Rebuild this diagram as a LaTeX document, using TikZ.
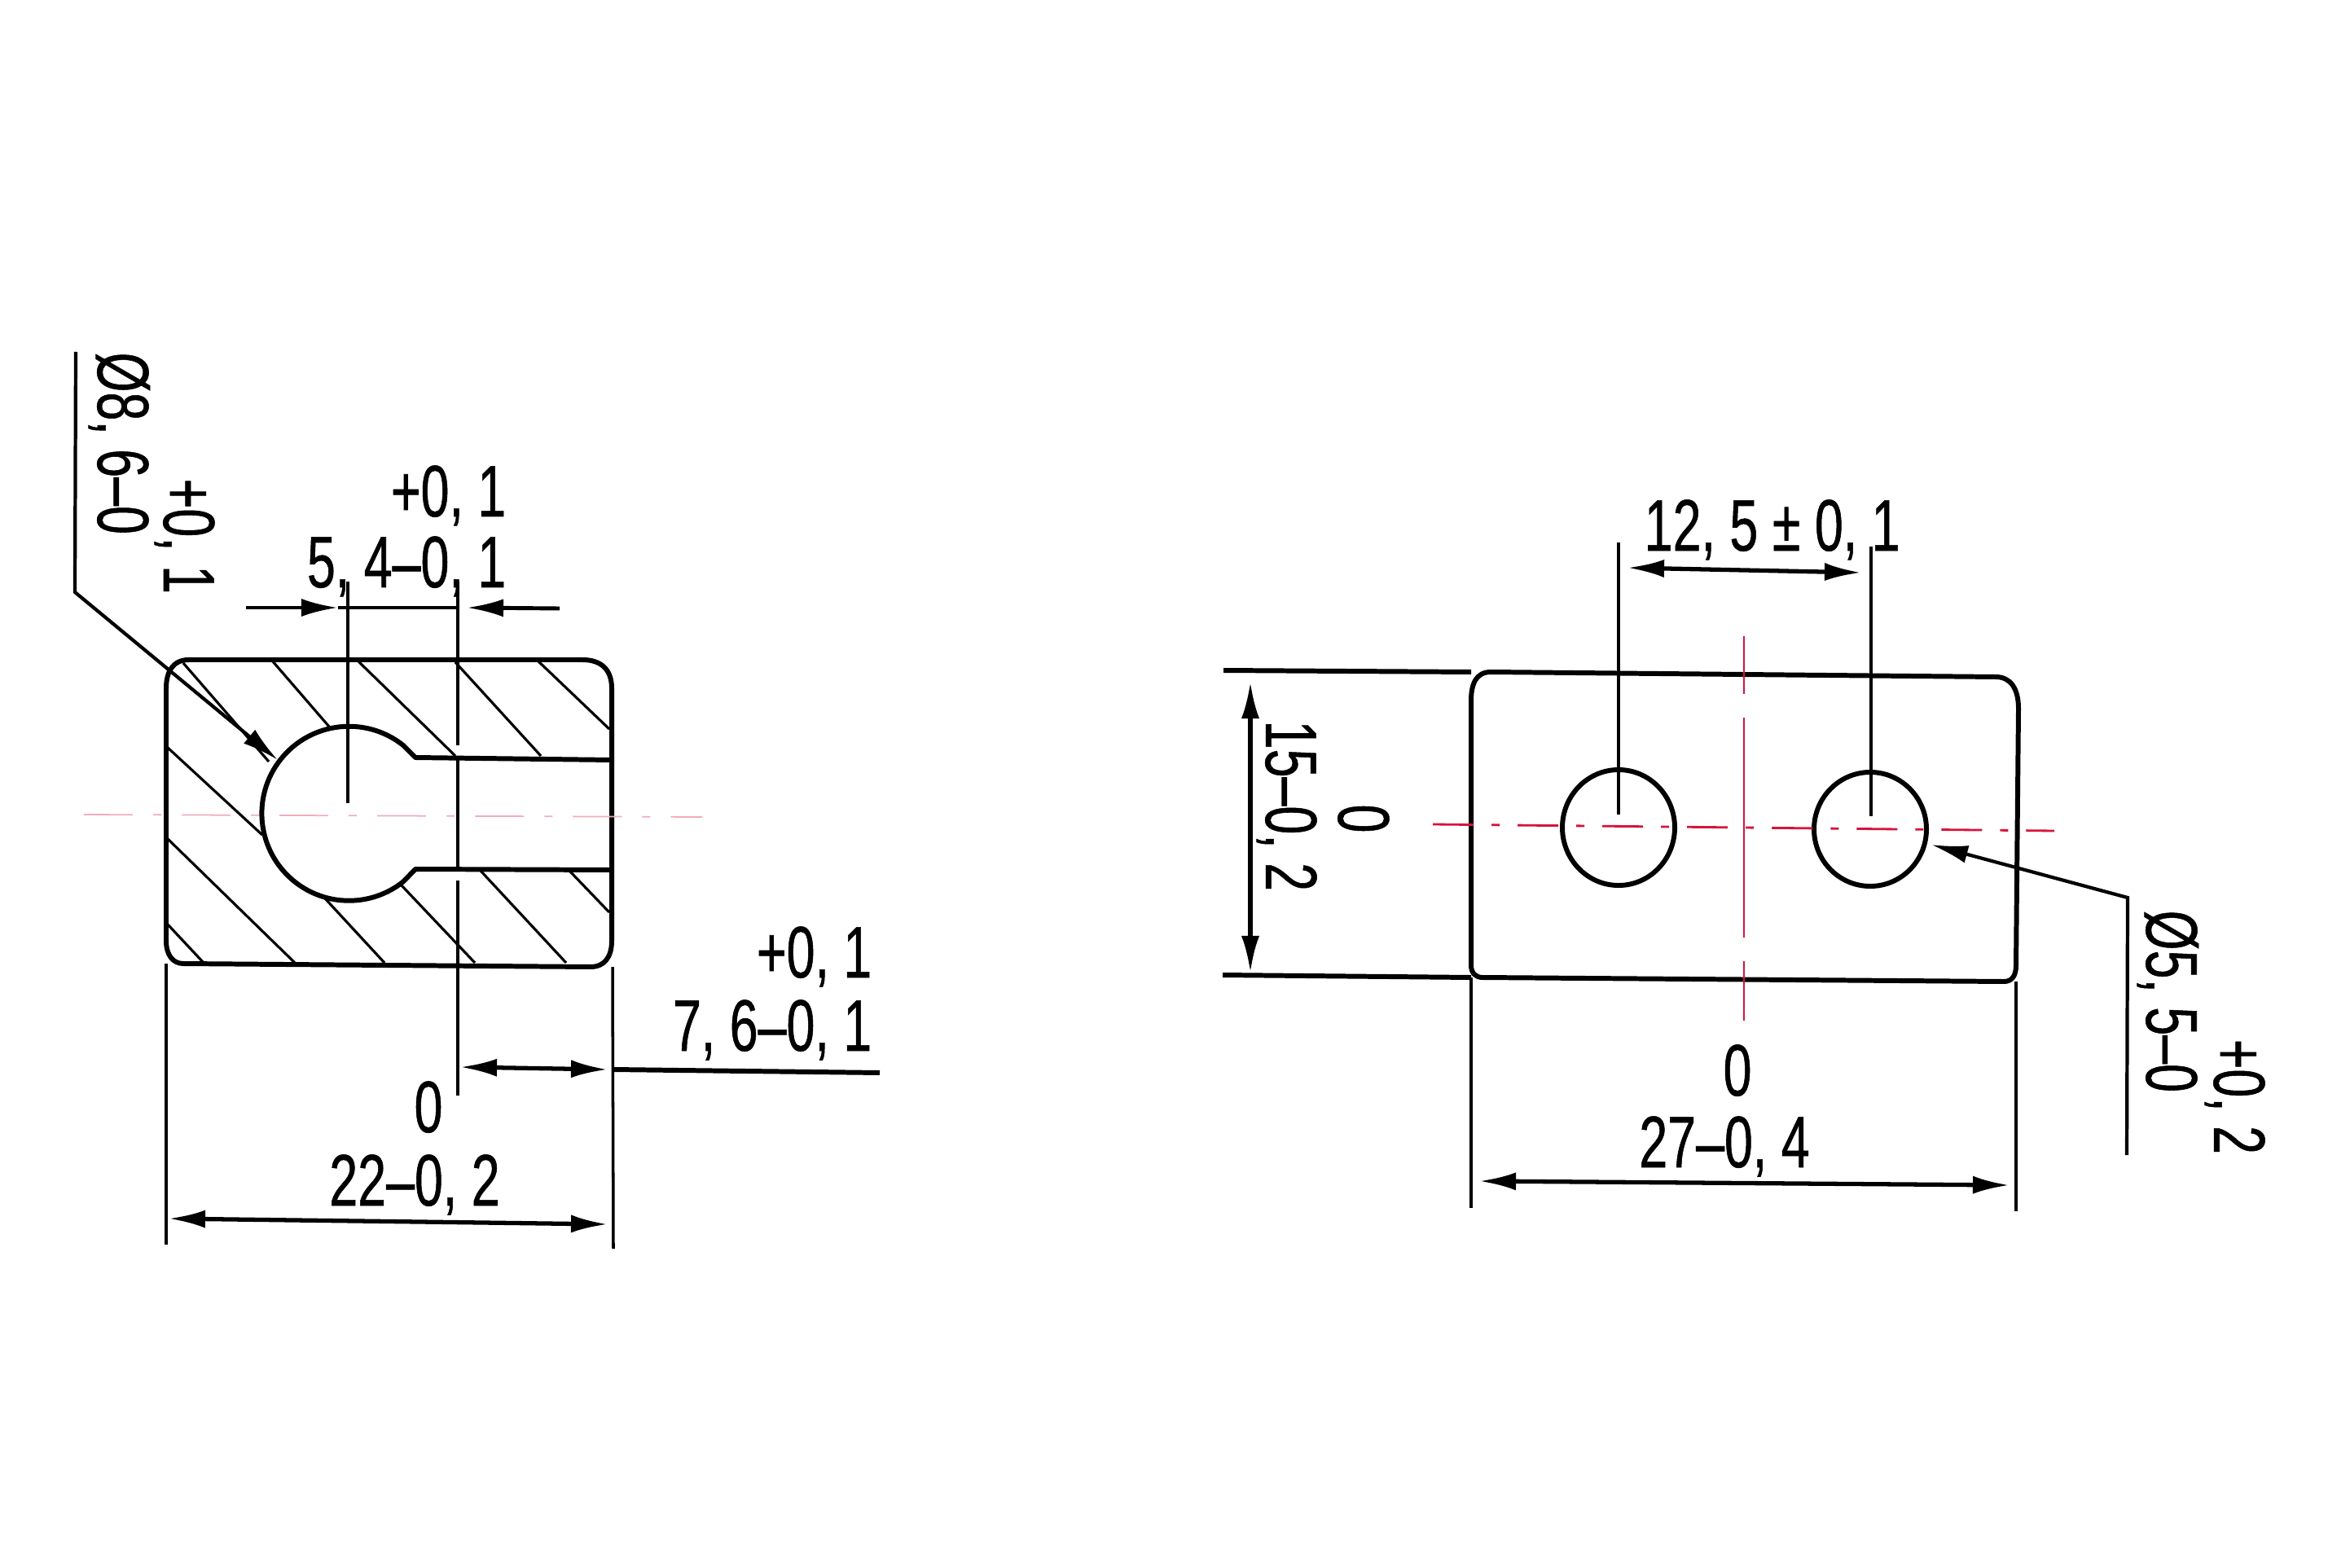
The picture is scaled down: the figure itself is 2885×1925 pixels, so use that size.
\documentclass[tikz,border=0pt]{standalone}
\usepackage{fontspec}
\newfontfamily\dimfont[FakeStretch=0.7,FakeBold=0.6]{Liberation Sans}
\usetikzlibrary{arrows.meta}
\definecolor{centerred}{RGB}{214,20,60}
\tikzset{
    outline/.style = {line width = 1.7pt,line join = round},
    hatchline/.style = {line width = 0.9pt},
    extline/.style = {line width = 1pt},
    dimline/.style = {line width = 1.5pt,{Latex[length = 4.5mm,width = 2.2mm]}-{Latex[length = 4.5mm,width = 2.2mm]}},
    leadline/.style = {line width = 1.2pt,-{Latex[length = 4.5mm,width = 2.2mm]}},
    dimtext/.style = {font = \dimfont\fontsize{25.5}{26}\selectfont,inner sep = 0pt},
    centerline/.style = {line width = 0.8pt,centerred}
}
\begin{document}
\begin{tikzpicture}[x = 0.01cm,y = -0.01cm]
        \useasboundingbox (0,0) rectangle (2885,1925);
        % left view, section
        \draw [outline] (204,845) .. controls (204,825) and (212,810) .. (232,810) -- (715,810) .. controls (738,810) and (751,822) .. (751,845)
            -- (751,1155) .. controls (751,1175) and (742,1187) .. (725,1187) -- (225,1183) .. controls (212,1183) and (204,1172) .. (204,1155) -- cycle;
        \draw [outline] (751,933) -- (510,930) -- (495,915) arc (-51.5:-308.5:107) -- (510,1067) -- (751,1068);
        \foreach \xa/\ya/\xb/\yb in {225/814/330/935,334/811/404/892,439/811/559/928,559/813/664/928,660/811/748/895,
                206/918/322/1025,206/1030/362/1182,206/1135/250/1182,399/1103/472/1182,492/1086/583/1182,590/1069/695/1182,699/1069/748/1120}
            \draw [hatchline] (\xa,\ya) -- (\xb,\yb);
        \draw [line width = 0.5pt,centerred!35,dash pattern = on 6mm off 2.5mm on 1mm off 2.5mm] (103,1000) -- (862,1003);
        % left view, dimensions
        \draw [extline] (427,714) -- (427,986);
        \draw [extline] (562,714) -- (562,915);
        \draw [extline] (562,931) -- (562,1066);
        \draw [extline] (562,1081) -- (562,1345);
        \draw [extline] (204,1183) -- (204,1528);
        \draw [extline] (752,1187) -- (753,1533);
        \draw [line width = 1.4pt,-{Latex[length = 4.5mm,width = 2.2mm]}] (302,746) -- (415,746);
        \draw [line width = 1.4pt] (415,746) -- (562,746);
        \draw [line width = 1.4pt,-{Latex[length = 4.5mm,width = 2.2mm]}] (687,747) -- (573,746);
        \draw [dimline] (565,1310) -- (746,1313);
        \draw [line width = 1.7pt] (753,1313) -- (1080,1317);
        \draw [dimline] (207,1496) -- (746,1503);
        \draw [leadline] (93,432) -- (92,727) -- (341,933);
        \node [dimtext,anchor = base east] (tolA) at (622,634) {+0, 1};
        \node [dimtext,anchor = base east] (slotW) at (622,721) {5, 4–0, 1};
        \node [dimtext,anchor = base east] (tolB) at (1071,1200) {+0, 1};
        \node [dimtext,anchor = base east] (slotL) at (1071,1290) {7, 6–0, 1};
        \node [dimtext,anchor = base] (zeroA) at (526,1390) {0};
        \node [dimtext,anchor = base] (widthA) at (509,1480) {22–0, 2};
        \node [dimtext,anchor = base west,rotate = -90] (boreD) at (120,432) {Ø8, 6–0};
        \node [dimtext,anchor = base west,rotate = -90] (boreT) at (201,587) {+0, 1};
        % right view
        \draw [outline] (1806,860) .. controls (1806,840) and (1812,825) .. (1830,825) -- (2450,831) .. controls (2468,831) and (2478,845) .. (2478,870)
            -- (2475,1185) .. controls (2475,1198) and (2470,1205) .. (2460,1205) -- (1820,1200) .. controls (1812,1200) and (1806,1195) .. (1806,1185) -- cycle;
        \draw [outline] (1987,1016) circle [x radius = 69,y radius = 71];
        \draw [outline] (2296,1018) circle [x radius = 69,y radius = 70];
        \draw [outline] (1502,823) -- (1806,825);
        \draw [outline] (1501,1197) -- (1806,1200);
        \draw [centerline,dash pattern = on 5mm off 2.2mm on 1mm off 2.2mm] (1759,1012) -- (2522,1020);
        \draw [centerline] (2141,781) -- (2141,852);
        \draw [centerline] (2141,881) -- (2141,1151);
        \draw [centerline] (2141,1180) -- (2141,1253);
        % right view, dimensions
        \draw [extline] (1987,666) -- (1987,1000);
        \draw [extline] (2297,671) -- (2297,1002);
        \draw [extline] (1806,1200) -- (1806,1483);
        \draw [extline] (2475,1205) -- (2475,1487);
        \draw [dimline] (1998,697) -- (2285,703);
        \draw [dimline] (1535,837) -- (1535,1194);
        \draw [dimline] (1816,1450) -- (2467,1455);
        \draw [leadline] (2611,1418) -- (2612,1102) -- (2371,1037);
        \node [dimtext,anchor = base west] (pitch) at (2018,676) {12, 5\kern 5pt ±\kern 5pt 0, 1};
        \node [dimtext,anchor = base] (zeroB) at (2133,1345) {0};
        \node [dimtext,anchor = base] (widthB) at (2117,1433) {27–0, 4};
        \node [dimtext,anchor = base west,rotate = -90] (height) at (1554,884) {15–0, 2};
        \node [dimtext,anchor = base,rotate = -90] (zeroC) at (1643,1005) {0};
        \node [dimtext,anchor = base west,rotate = -90] (holeD) at (2635,1117) {Ø5, 5–0};
        \node [dimtext,anchor = base west,rotate = -90] (holeT) at (2718,1275) {+0, 2};
    \end{tikzpicture}
\end{document}
